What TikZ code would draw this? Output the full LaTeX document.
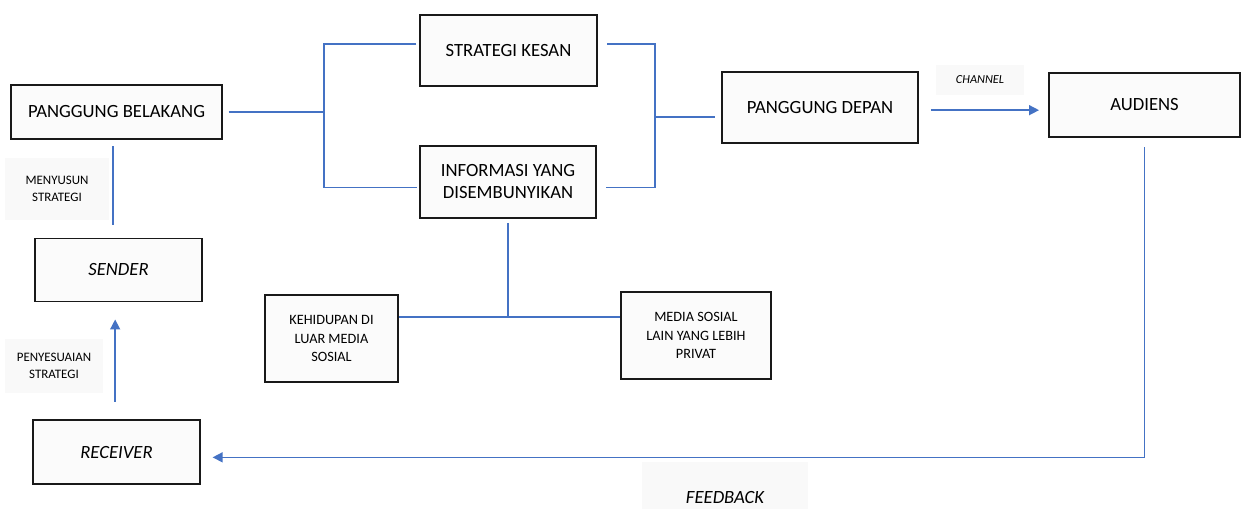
\documentclass[tikz,border=0pt]{standalone}
\usepackage{fontspec}
\setmainfont{Carlito}
\usepackage{tikz}
\usetikzlibrary{calc, arrows.meta}
\definecolor{linkblue}{RGB}{68,114,196}

\begin{document}
\begin{tikzpicture}[x=0.75pt, y=-0.75pt,
    box/.style={draw=black!90, line width=1.2pt, fill=black!1.5, align=center, inner sep=2pt},
    bigtext/.style={font=\fontsize{14}{16.5}\selectfont},
    smalltext/.style={font=\fontsize{10.7}{14}\selectfont},
    tag/.style={fill=black!2.5, align=center, font=\fontsize{9.7}{12.5}\selectfont},
    link/.style={draw=linkblue, line width=1.1pt},
    arr/.style={link, -{Triangle[width=7.5pt, length=7.5pt]}}]

    % ==========================================
    % CANVAS
    % ==========================================
    \useasboundingbox (0,0) rectangle (1241,508);

    % ==========================================
    % BOXES
    % ==========================================
    \node[box, bigtext, minimum width=158pt, minimum height=40.5pt] (pb) at (116.5,112) {PANGGUNG BELAKANG};
    \node[box, bigtext, minimum width=125pt, minimum height=47pt] (snd) at (118.5,270) {\itshape SENDER};
    \node[box, bigtext, minimum width=125pt, minimum height=48pt] (rec) at (116.5,452) {\itshape RECEIVER};

    \node[box, bigtext, minimum width=133pt, minimum height=53pt] (sk) at (508.5,50.5) {STRATEGI KESAN};
    \node[box, bigtext, minimum width=132pt, minimum height=54pt] (info) at (508,182) {INFORMASI YANG\\DISEMBUNYIKAN};

    \node[box, bigtext, minimum width=147pt, minimum height=53pt] (pd) at (820,107.5) {PANGGUNG DEPAN};
    \node[box, bigtext, minimum width=143pt, minimum height=48pt] (aud) at (1144.5,105) {AUDIENS};

    \node[box, smalltext, minimum width=100pt, minimum height=65pt] (keh) at (331.5,338.5) {KEHIDUPAN DI\\LUAR MEDIA\\SOSIAL};
    \node[box, smalltext, minimum width=112.5pt, minimum height=65pt] (med) at (696,335.5) {MEDIA SOSIAL\\LAIN YANG LEBIH\\PRIVAT};

    % ==========================================
    % LABELS
    % ==========================================
    \node[tag, minimum width=78pt, minimum height=47pt] (lblsusun) at (57,189) {MENYUSUN\\STRATEGI};
    \node[tag, minimum width=73pt, minimum height=41pt] (lblsesuai) at (54,366) {PENYESUAIAN\\STRATEGI};
    \node[tag, minimum width=66pt, minimum height=22pt, font=\fontsize{9.2}{11}\itshape] (lblchannel) at (980,80) {CHANNEL};
    \node[tag, minimum width=125pt, minimum height=52pt, font=\fontsize{14}{16}\itshape] (lblfeed) at (725,497) {FEEDBACK};

    % ==========================================
    % JUNCTIONS
    % ==========================================
    \coordinate (lj) at (324,112);   % left bracket
    \coordinate (rj) at (655,117);   % right bracket
    \coordinate (bj) at (508,317);   % bottom split

    % ==========================================
    % CONNECTORS
    % ==========================================
    % back stage into the two middle boxes
    \draw[link] ([xshift=4.5pt]pb.east) -- (lj);
    \draw[link] ([xshift=-2pt, yshift=5pt]sk.west) -| (lj) |- ([xshift=-2pt, yshift=-4pt]info.west);

    % middle boxes into front stage
    \draw[link] ([xshift=7pt, yshift=5pt]sk.east) -| (rj) |- ([xshift=7pt, yshift=-4pt]info.east);
    \draw[link, shorten >=5pt] (rj) -- (rj -| pd.west);

    % front stage to audience
    \draw[arr, shorten <=9pt, shorten >=7pt] ([yshift=-2pt]pd.east) -- ([yshift=-2pt]pd.east -| aud.west);

    % feedback loop
    \draw[arr] ([yshift=-7pt]aud.south) |- ([xshift=9pt, yshift=-4pt]rec.east);
    \draw[arr] ([xshift=-1pt, yshift=13pt]rec.north) -- ([xshift=-1pt, yshift=-13pt]rec.north |- snd.south);
    \draw[link] ([xshift=-2.5pt, yshift=-5pt]pb.south) -- ([xshift=-2.5pt, yshift=10pt]pb.south |- snd.north);

    % hidden information split
    \draw[link] ([yshift=-3pt]info.south) -- (bj);
    \draw[link] (keh.east |- bj) -- (med.west |- bj);

\end{tikzpicture}
\end{document}
